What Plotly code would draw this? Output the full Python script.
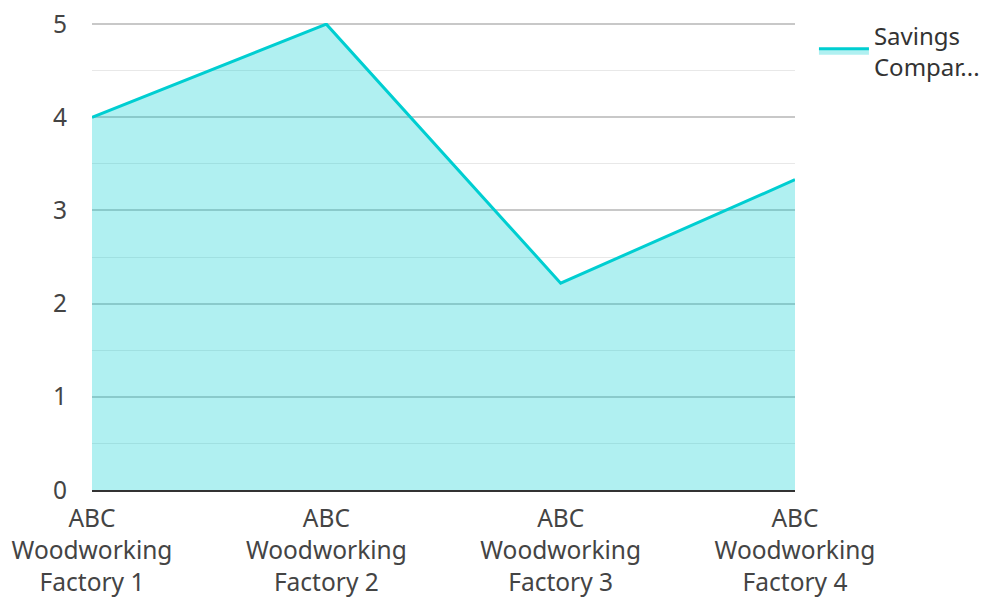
import plotly.graph_objects as go

categories = ["ABC<br>Woodworking<br>Factory 1", "ABC<br>Woodworking<br>Factory 2",
              "ABC<br>Woodworking<br>Factory 3", "ABC<br>Woodworking<br>Factory 4"]
values = [4, 5, 2.22, 3.33]
series_name = "Savings<br>Compar..."
y_ticks = [0, 1, 2, 3, 4, 5]

fig = go.Figure()
fig.add_trace(go.Scatter(
    x=[0, 1, 2, 3], y=values, mode="lines", name=series_name,
    fill="tozeroy", fillcolor="rgba(0,206,209,0.31)",
    line=dict(color="#00CED1", width=3), cliponaxis=False,
    showlegend=True,
))

fig.update_layout(
    width=989, height=597,
    margin=dict(l=92, r=194, t=23, b=107, autoexpand=False),
    paper_bgcolor="white", plot_bgcolor="white",
    font=dict(family="Noto Sans", size=24.5, color="#444444"),
    legend=dict(xref="container", yref="container", x=0.823, y=0.978,
                xanchor="left", yanchor="top",
                font=dict(size=24, color="#333333"), itemwidth=50),
    xaxis=dict(range=[0, 3], tickvals=[0, 1, 2, 3], ticktext=categories,
               showgrid=False, zeroline=False, showline=True, automargin=False,
               linecolor="#333333", linewidth=2, ticks="", ticklabelstandoff=6),
    yaxis=dict(range=[0, 5.012], tickvals=y_ticks, showgrid=True, automargin=False,
               gridcolor="#c8c8c8", gridwidth=1.5, zeroline=False,
               showline=False, ticks="", ticklabelstandoff=24,
               minor=dict(dtick=0.5, showgrid=True, gridcolor="#e8e8e8", gridwidth=1)),
)

fig.write_html("out.html")
